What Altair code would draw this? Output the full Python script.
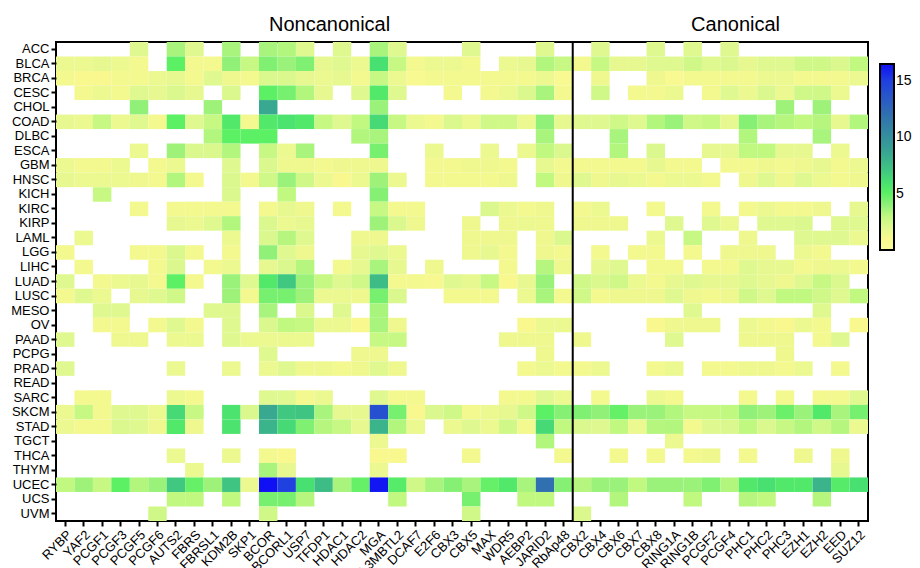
import altair as alt
import pandas as pd

N = None

genes = ["RYBP", "YAF2", "PCGF1", "PCGF3", "PCGF5", "PCGF6", "AUTS2", "FBRS", "FBRSL1",
         "KDM2B", "SKP1", "BCOR", "BCORL1", "USP7", "TFDP1", "HDAC1", "HDAC2", "MGA",
         "L3MBTL2", "DCAF7", "E2F6", "CBX3", "CBX5", "MAX", "WDR5", "AEBP2", "JARID2",
         "RbAp48",
         "CBX2", "CBX4", "CBX6", "CBX7", "CBX8", "RING1A", "RING1B", "PCGF2", "PCGF4",
         "PHC1", "PHC2", "PHC3", "EZH1", "EZH2", "EED", "SUZ12"]

cancers = ["ACC", "BLCA", "BRCA", "CESC", "CHOL", "COAD", "DLBC", "ESCA", "GBM", "HNSC",
           "KICH", "KIRC", "KIRP", "LAML", "LGG", "LIHC", "LUAD", "LUSC", "MESO", "OV",
           "PAAD", "PCPG", "PRAD", "READ", "SARC", "SKCM", "STAD", "TGCT", "THCA", "THYM",
           "UCEC", "UCS", "UVM"]

group_titles = ["Noncanonical", "Canonical"]
group_anchor = ["TFDP1", "PCGF4"]

# values per cancer (44 genes each); None = blank cell
ACC  = [N,N,N,N,2.0,N,3.5,2.0,N,3.5,N,3.5,3.3,2.0,N, 2.0,N,3.5,2.0,N,N,N,2.0,N,N,N,2.0,N,
        N,2.0,N,N,2.0,N,2.0,N,2.0,N,N,N,N,N,N,N]
BLCA = [1.5,1.5,1.7,1.5,1.2,N,5.0,1.2,1.2,4.0,2.8,4.3,3.8,4.3,1.7, 2.0,1.5,6.0,2.8,1.2,1.5,1.5,1.2,N,1.5,1.7,3.3,2.8,
        1.2,2.8,1.7,1.7,2.0,2.0,2.5,2.0,2.2,1.7,2.0,2.0,2.5,2.5,2.2,3.0]
BRCA = [1.2,1.0,1.0,1.2,1.2,1.5,1.7,1.2,2.0,1.4,1.2,2.2,2.2,1.7,1.5, 1.7,1.2,2.8,1.5,0.8,1.2,1.2,1.2,1.2,1.2,1.2,1.5,0.8,
        N,1.4,N,N,1.4,0.8,1.2,1.2,1.2,1.2,1.5,1.5,1.2,1.2,1.2,1.5]
CESC = [N,1.2,1.5,1.2,2.0,1.7,2.2,1.7,N,2.2,N,5.0,4.5,3.3,1.7, N,2.0,5.5,2.0,N,N,1.2,N,1.2,1.5,2.2,3.5,1.2,
        N,2.5,N,1.2,1.2,1.5,N,1.2,2.0,1.5,2.2,1.5,2.5,2.5,1.5,N]
CHOL = [N,N,N,N,4.0,N,N,N,3.7,N,N,8.5,N,N,N, N,N,3.8,N,N,N,N,N,N,N,N,N,N,
        N,N,N,N,N,N,N,N,N,N,N,3.7,N,3.7,N,N]
COAD = [1.7,1.5,2.8,1.5,2.0,1.2,5.0,2.0,2.8,5.5,1.2,5.5,5.8,5.5,2.8, 2.0,3.0,6.3,2.8,1.5,1.2,2.2,1.5,2.5,2.5,1.5,4.0,1.7,
        2.0,2.0,2.5,2.0,3.3,3.8,2.5,2.8,1.7,4.2,3.5,3.2,3.0,3.2,1.7,3.3]
DLBC = [N,N,N,N,N,N,N,N,3.3,5.0,5.0,5.0,N,N,N, N,3.3,3.5,N,N,N,N,N,N,N,N,3.5,N,
        N,N,3.5,N,N,N,N,N,N,3.3,N,N,N,3.5,N,N]
ESCA = [N,N,N,N,1.5,N,3.7,2.2,2.2,3.3,N,2.8,1.5,3.5,N, N,N,4.5,N,N,1.5,N,N,1.5,N,1.5,3.0,2.2,
        N,N,3.3,N,2.2,N,N,1.7,1.7,3.0,3.0,1.7,1.7,N,1.5,N]
GBM  = [1.5,1.2,1.2,1.5,N,1.2,1.5,N,N,2.0,N,2.2,1.4,1.4,1.2, 1.4,1.4,1.4,N,N,1.2,1.2,1.4,1.4,1.2,N,1.7,1.2,
        1.2,1.2,1.2,1.2,1.7,1.2,1.2,N,1.2,1.2,1.4,1.2,1.4,1.7,1.2,1.5]
HNSC = [1.7,1.5,1.5,1.5,1.4,1.2,3.3,1.2,N,2.2,1.2,2.5,3.8,2.5,1.5, 1.0,1.5,3.7,1.5,N,1.2,1.2,1.2,1.2,1.4,N,3.0,1.4,
        2.0,1.4,1.7,1.5,1.2,1.5,1.5,1.2,N,1.4,2.0,1.4,2.0,1.5,1.2,1.4]
KICH = [N,N,2.8,N,N,N,N,N,N,2.2,N,N,3.0,N,N, N,N,4.2,N,N,N,N,N,N,N,N,N,N,
        N,N,N,N,N,N,N,N,N,N,N,N,N,N,N,N]
KIRC = [N,N,N,N,1.2,N,1.2,1.2,1.2,1.2,N,1.2,1.7,1.4,N, 1.2,N,2.8,1.2,1.2,N,N,N,2.2,1.5,1.2,1.4,N,
        1.2,1.5,N,N,1.2,N,N,1.2,N,1.2,1.5,1.2,1.2,1.4,N,1.7]
KIRP = [N,N,N,N,N,N,1.7,1.5,2.0,3.3,N,2.2,1.5,1.7,N, N,N,3.7,2.2,1.4,N,N,1.4,N,1.4,1.5,1.4,N,
        1.4,1.4,1.4,N,N,2.0,N,2.0,1.5,N,2.0,2.0,2.2,N,2.0,2.0]
LAML = [N,1.5,N,N,N,N,N,N,N,1.5,N,2.2,3.2,2.0,N, N,1.4,1.4,N,N,N,N,1.4,1.4,1.4,N,1.4,2.2,
        N,N,N,N,1.5,N,2.8,N,N,1.4,N,N,2.0,2.0,2.0,1.5]
LGG  = [1.2,N,N,N,1.2,1.2,2.2,1.2,N,1.2,N,4.0,2.0,1.4,N, N,1.7,2.0,1.5,N,N,N,1.4,1.7,1.2,N,1.4,1.2,
        N,1.2,N,1.2,1.2,N,1.2,N,1.4,1.4,1.4,N,1.5,1.2,N,N]
LIHC = [N,1.2,N,N,N,1.2,2.2,N,1.2,1.5,N,1.7,2.2,3.2,N, 1.2,1.7,3.5,1.7,N,1.4,N,N,N,1.2,N,3.2,1.4,
        N,1.7,2.0,N,1.2,1.2,N,1.2,1.2,2.0,1.7,1.7,1.2,1.4,1.5,1.2]
LUAD = [2.0,N,1.2,1.5,1.7,1.2,5.0,1.2,N,3.8,2.0,5.5,7.0,3.8,2.8, 2.0,2.5,7.5,1.2,1.2,0.9,2.0,1.7,2.8,1.0,1.7,3.8,N,
        2.5,2.2,2.5,1.5,1.2,1.7,2.0,1.7,1.7,2.0,1.7,1.4,2.0,2.8,2.2,N]
LUSC = [1.2,2.0,1.5,N,1.7,2.0,2.5,N,N,3.7,1.2,4.5,4.5,3.7,1.5, 1.5,1.4,4.5,2.2,N,N,1.2,1.2,1.2,N,1.5,3.5,1.2,
        2.5,1.2,1.4,1.4,1.4,2.0,1.4,1.2,1.4,2.5,2.0,3.0,3.0,2.5,2.0,3.0]
MESO = [N,N,2.0,2.0,N,N,N,N,2.0,2.0,N,3.5,N,2.2,N, 2.0,N,3.5,N,N,N,N,N,N,N,N,N,N,
        N,N,N,N,N,N,2.0,N,N,N,N,N,N,2.0,N,N]
OV   = [N,N,1.2,1.2,N,1.2,2.0,1.2,N,2.0,N,2.2,3.0,2.8,1.5, 1.5,1.0,3.5,1.4,N,N,N,N,N,N,1.0,1.5,1.5,
        N,N,N,N,1.0,1.4,1.4,1.4,N,1.5,1.2,1.0,1.5,1.2,N,1.0]
PAAD = [2.0,N,N,1.4,1.4,N,1.5,1.5,N,2.0,1.5,1.5,1.5,1.5,N, N,N,2.8,2.8,N,N,N,N,N,1.4,1.4,1.4,N,
        1.4,N,N,N,N,2.0,N,N,N,1.4,1.4,1.4,N,1.2,2.0,N]
PCPG = [N,N,N,N,N,N,N,N,N,N,N,2.0,N,N,N, N,1.4,1.4,N,N,N,N,N,N,N,N,1.4,N,
        N,N,N,N,N,N,N,N,N,N,N,1.4,N,N,N,N]
PRAD = [2.0,N,N,N,N,N,1.5,N,N,1.5,N,1.5,2.0,1.4,1.4, 1.2,1.4,2.0,1.4,N,N,N,N,N,N,1.2,1.5,1.2,
        1.2,1.5,N,N,1.2,1.5,N,1.2,1.2,1.4,1.4,1.2,1.5,N,1.2,N]
READ = [N] * 44
SARC = [N,1.2,1.2,N,N,N,1.5,1.2,N,N,N,2.0,2.0,1.2,1.5, N,N,2.0,1.2,1.2,N,N,N,N,1.2,1.2,2.0,1.5,
        N,1.2,N,N,1.5,1.2,N,N,N,1.2,N,1.2,N,1.2,1.2,2.0]
SKCM = [1.5,2.8,1.2,2.0,2.0,1.5,6.3,2.8,N,5.8,2.2,8.5,7.0,7.2,3.5, 1.7,1.7,14.0,4.5,1.0,2.2,2.5,1.2,1.5,1.7,2.5,5.0,4.2,
        4.3,4.0,4.8,3.8,3.8,3.3,2.8,2.8,3.0,4.0,3.7,4.7,3.8,5.5,3.5,4.5]
STAD = [1.5,1.2,1.2,2.2,2.0,1.4,5.5,1.4,N,5.8,N,8.0,6.3,4.3,3.2, 2.8,1.7,8.0,3.3,1.5,N,1.5,2.0,1.5,2.5,1.2,6.3,3.0,
        2.2,2.0,3.0,1.5,3.2,3.3,1.2,2.0,2.2,3.0,2.2,2.8,3.3,2.5,3.2,1.5]
TGCT = [N,N,N,N,N,N,N,N,N,N,N,N,N,N,N, N,N,1.5,N,N,N,N,N,N,N,N,3.3,N,
        N,N,N,N,N,1.5,N,N,N,N,N,N,N,N,N,N]
THCA = [N,N,N,N,N,N,1.5,N,N,1.5,N,1.2,1.0,N,N, N,N,1.0,1.0,N,N,N,1.2,N,N,N,N,1.2,
        N,N,1.2,N,1.2,N,1.2,1.4,N,1.2,N,N,1.4,N,1.4,N]
THYM = [N,N,N,N,N,N,N,1.5,N,N,N,3.5,1.7,N,N, N,N,1.5,N,N,N,N,N,N,N,N,N,N,
        N,N,N,N,N,N,N,N,N,N,N,N,N,N,1.7,N]
UCEC = [3.0,3.7,2.8,5.0,3.3,3.8,7.0,4.8,3.7,7.2,1.5,16.5,15.0,6.0,7.5, 3.5,4.8,16.3,5.3,2.5,3.5,4.2,3.5,4.8,5.5,3.5,12.0,4.2,
        3.2,3.8,3.8,3.0,3.8,3.8,3.8,4.3,3.3,5.5,6.0,5.5,5.5,8.0,5.3,6.0]
UCS  = [N,N,N,N,N,N,3.0,3.0,N,3.0,N,4.5,4.5,3.2,N, N,N,N,3.0,N,N,N,4.5,N,N,3.0,3.0,N,
        N,N,3.3,N,N,N,3.0,N,N,3.2,3.0,N,N,3.2,N,N]
UVM  = [N,N,N,N,N,2.5,N,N,N,N,N,2.5,N,N,N, N,N,N,N,N,N,N,2.5,N,N,N,N,N,
        2.2,N,N,N,N,N,N,N,N,N,N,N,N,N,N,N]

rows = [ACC, BLCA, BRCA, CESC, CHOL, COAD, DLBC, ESCA, GBM, HNSC, KICH, KIRC, KIRP, LAML,
        LGG, LIHC, LUAD, LUSC, MESO, OV, PAAD, PCPG, PRAD, READ, SARC, SKCM, STAD, TGCT,
        THCA, THYM, UCEC, UCS, UVM]

color_stops = [0, 1, 2, 3, 4, 5, 6, 7, 8.5, 12, 15, 16.5]
color_range = ["#fbfb9e", "#f8f88f", "#e0f890", "#c0f880", "#90f078", "#5cf064",
               "#48e070", "#40c880", "#38a890", "#3070b0", "#2040e0", "#1010f5"]
legend_ticks = [5, 10, 15]

records = []
for c, vals in zip(cancers, rows):
    for g, v in zip(genes, vals):
        if v is not None:
            records.append({"cancer": c, "gene": g, "value": v})
df = pd.DataFrame(records)

xscale = alt.Scale(domain=genes, paddingInner=0, paddingOuter=0)
yscale = alt.Scale(domain=cancers, paddingInner=0, paddingOuter=0)
cscale = alt.Scale(domain=color_stops, range=color_range, interpolate="rgb")

heat = alt.Chart(df).mark_rect().encode(
    x=alt.X("gene:N", scale=xscale, sort=genes,
            axis=alt.Axis(title=None, labelAngle=-45, labelAlign="right",
                          labelBaseline="top")),
    y=alt.Y("cancer:N", scale=yscale, sort=cancers, axis=alt.Axis(title=None)),
    color=alt.Color("value:Q", scale=cscale,
                    legend=alt.Legend(type="gradient", title=None, orient="none",
                                      legendX=824, legendY=22, direction="vertical",
                                      gradientLength=186, gradientThickness=14,
                                      gradientStrokeColor="black", gradientStrokeWidth=2,
                                      values=legend_ticks, labelFontSize=14,
                                      labelColor="black", labelFont="Liberation Sans",
                                      labelOffset=2, padding=0)),
)

div_df = pd.DataFrame({"gene": ["CBX2"]})
divider = alt.Chart(div_df).mark_rule(color="black", strokeWidth=2).encode(
    x=alt.X("gene:N", scale=xscale, bandPosition=0)
)

title_df = pd.DataFrame({"gene": group_anchor, "label": group_titles})
titles = alt.Chart(title_df).mark_text(
    fontSize=20, font="Liberation Sans", color="black", baseline="middle", dx=6
).encode(
    x=alt.X("gene:N", scale=xscale),
    y=alt.value(-17),
    text="label:N",
)

chart = alt.layer(heat, divider, titles).properties(
    width=812, height=479,
    autosize=alt.AutoSizeParams(type="none"),
    padding={"left": 48, "top": 34, "right": 44, "bottom": 62},
).configure_view(
    stroke="black", strokeWidth=2
).configure_axis(
    labelFont="Liberation Sans", labelFontSize=13, labelColor="black",
    tickColor="black", tickWidth=2, tickSize=5, domain=False, grid=False,
    labelPadding=2
)

chart.save("out.html", embed_options={"renderer": "svg", "actions": False})
